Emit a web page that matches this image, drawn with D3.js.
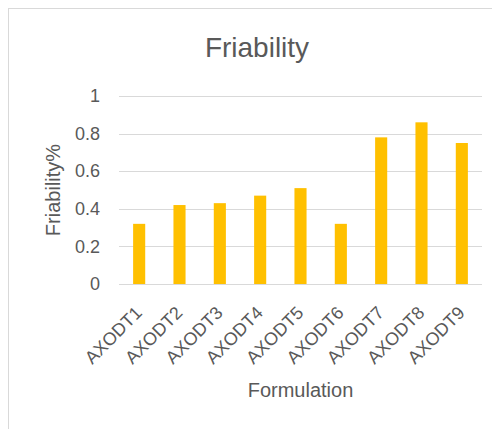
<!DOCTYPE html>
<html>
<head>
<meta charset="utf-8">
<script src="https://cdn.jsdelivr.net/npm/d3@7"></script>
<style>
  html, body { margin: 0; padding: 0; background: #fff; }
  svg text { font-family: "Liberation Sans", Arial, sans-serif; fill: #595959; }
</style>
</head>
<body>
<svg id="chart" width="492" height="429"></svg>
<script>
// Friability of each formulation
const categories = ["AXODT1", "AXODT2", "AXODT3", "AXODT4", "AXODT5", "AXODT6", "AXODT7", "AXODT8", "AXODT9"];
const friability = [0.32, 0.42, 0.43, 0.47, 0.51, 0.32, 0.78, 0.86, 0.75];
const yTicks = [0, 0.2, 0.4, 0.6, 0.8, 1];
const yTickLabels = ["0", "0.2", "0.4", "0.6", "0.8", "1"];

const svg = d3.select("#chart");

// chart frame
svg.append("rect")
  .attr("x", 8.5).attr("y", 8.5)
  .attr("width", 600).attr("height", 600)
  .attr("fill", "#fff")
  .attr("stroke", "#d9d9d9").attr("stroke-width", 1);

const plot = { left: 119, right: 482, top: 96, bottom: 284 };

const x = d3.scaleBand()
  .domain(categories)
  .range([plot.left, plot.right])
  .paddingInner(0.7)
  .paddingOuter(0.35);

const y = d3.scaleLinear()
  .domain([0, 1])
  .range([plot.bottom, plot.top]);

// gridlines
svg.append("g")
  .selectAll("line")
  .data(yTicks)
  .join("line")
  .attr("x1", plot.left).attr("x2", plot.right)
  .attr("y1", d => Math.round(y(d)) + 0.5)
  .attr("y2", d => Math.round(y(d)) + 0.5)
  .attr("stroke", "#d9d9d9").attr("stroke-width", 1);

// y tick labels
const yAxis = d3.axisLeft(y)
  .tickValues(yTicks)
  .tickFormat((d, i) => yTickLabels[i])
  .tickSize(0)
  .tickPadding(19);
const gy = svg.append("g").attr("transform", `translate(${plot.left},0)`).call(yAxis);
gy.select(".domain").remove();
gy.selectAll("text")
  .attr("font-size", 18)
  .attr("fill", "#595959")
  .style("font-family", "'Liberation Sans', Arial, sans-serif");

// bars
svg.append("g")
  .selectAll("rect")
  .data(friability)
  .join("rect")
  .attr("x", (d, i) => x(categories[i]))
  .attr("width", x.bandwidth())
  .attr("y", d => y(d))
  .attr("height", d => y(0) - y(d))
  .attr("fill", "#ffc000");

// x category labels, rotated
const xAxis = d3.axisBottom(x).tickSize(0).tickPadding(0);
const gx = svg.append("g").attr("transform", `translate(0,${plot.bottom})`).call(xAxis);
gx.select(".domain").remove();
gx.selectAll("text")
  .attr("font-size", 18)
  .attr("fill", "#595959")
  .style("font-family", "'Liberation Sans', Arial, sans-serif")
  .attr("text-anchor", "end")
  .attr("dy", 0)
  .attr("transform", "translate(4,30) rotate(-45)");

// title
svg.append("text")
  .attr("x", 257).attr("y", 57)
  .attr("text-anchor", "middle")
  .attr("font-size", 28)
  .text("Friability");

// axis titles
svg.append("text")
  .attr("transform", `translate(60,${(plot.top + plot.bottom) / 2}) rotate(-90)`)
  .attr("text-anchor", "middle")
  .attr("font-size", 20)
  .text("Friability%");

svg.append("text")
  .attr("x", (plot.left + plot.right) / 2).attr("y", 397)
  .attr("text-anchor", "middle")
  .attr("font-size", 20)
  .text("Formulation");
</script>
</body>
</html>
